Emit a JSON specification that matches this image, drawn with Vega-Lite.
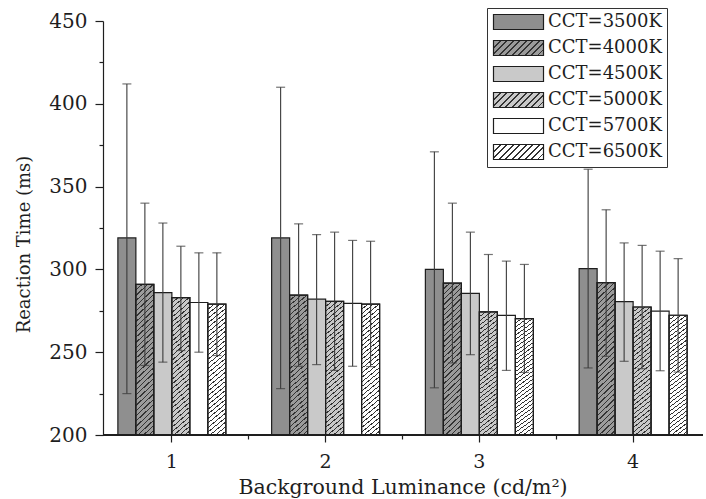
{
  "$schema": "https://vega.github.io/schema/vega-lite/v6.json",
  "width": 600,
  "height": 414,
  "autosize": {"type": "none"},
  "padding": {"left": 103, "top": 21, "right": 3, "bottom": 64},
  "config": {"font": "DejaVu Serif", "view": {"stroke": null}, "axis": {"grid": false}},
  "params": [
    {"name": "H", "value": [
      {"offset":0,"color":"#333"},{"offset":0.0078,"color":"#333"},{"offset":0.0078,"color":"rgba(0,0,0,0)"},{"offset":0.03125,"color":"rgba(0,0,0,0)"},
      {"offset":0.03125,"color":"#333"},{"offset":0.0391,"color":"#333"},{"offset":0.0391,"color":"rgba(0,0,0,0)"},{"offset":0.0625,"color":"rgba(0,0,0,0)"},
      {"offset":0.0625,"color":"#333"},{"offset":0.0703,"color":"#333"},{"offset":0.0703,"color":"rgba(0,0,0,0)"},{"offset":0.09375,"color":"rgba(0,0,0,0)"},
      {"offset":0.09375,"color":"#333"},{"offset":0.1016,"color":"#333"},{"offset":0.1016,"color":"rgba(0,0,0,0)"},{"offset":0.125,"color":"rgba(0,0,0,0)"},
      {"offset":0.125,"color":"#333"},{"offset":0.1328,"color":"#333"},{"offset":0.1328,"color":"rgba(0,0,0,0)"},{"offset":0.15625,"color":"rgba(0,0,0,0)"},
      {"offset":0.15625,"color":"#333"},{"offset":0.1641,"color":"#333"},{"offset":0.1641,"color":"rgba(0,0,0,0)"},{"offset":0.1875,"color":"rgba(0,0,0,0)"},
      {"offset":0.1875,"color":"#333"},{"offset":0.1953,"color":"#333"},{"offset":0.1953,"color":"rgba(0,0,0,0)"},{"offset":0.21875,"color":"rgba(0,0,0,0)"},
      {"offset":0.21875,"color":"#333"},{"offset":0.2266,"color":"#333"},{"offset":0.2266,"color":"rgba(0,0,0,0)"},{"offset":0.25,"color":"rgba(0,0,0,0)"},
      {"offset":0.25,"color":"#333"},{"offset":0.2578,"color":"#333"},{"offset":0.2578,"color":"rgba(0,0,0,0)"},{"offset":0.28125,"color":"rgba(0,0,0,0)"},
      {"offset":0.28125,"color":"#333"},{"offset":0.2891,"color":"#333"},{"offset":0.2891,"color":"rgba(0,0,0,0)"},{"offset":0.3125,"color":"rgba(0,0,0,0)"},
      {"offset":0.3125,"color":"#333"},{"offset":0.3203,"color":"#333"},{"offset":0.3203,"color":"rgba(0,0,0,0)"},{"offset":0.34375,"color":"rgba(0,0,0,0)"},
      {"offset":0.34375,"color":"#333"},{"offset":0.3516,"color":"#333"},{"offset":0.3516,"color":"rgba(0,0,0,0)"},{"offset":0.375,"color":"rgba(0,0,0,0)"},
      {"offset":0.375,"color":"#333"},{"offset":0.3828,"color":"#333"},{"offset":0.3828,"color":"rgba(0,0,0,0)"},{"offset":0.40625,"color":"rgba(0,0,0,0)"},
      {"offset":0.40625,"color":"#333"},{"offset":0.4141,"color":"#333"},{"offset":0.4141,"color":"rgba(0,0,0,0)"},{"offset":0.4375,"color":"rgba(0,0,0,0)"},
      {"offset":0.4375,"color":"#333"},{"offset":0.4453,"color":"#333"},{"offset":0.4453,"color":"rgba(0,0,0,0)"},{"offset":0.46875,"color":"rgba(0,0,0,0)"},
      {"offset":0.46875,"color":"#333"},{"offset":0.4766,"color":"#333"},{"offset":0.4766,"color":"rgba(0,0,0,0)"},{"offset":0.5,"color":"rgba(0,0,0,0)"},
      {"offset":0.5,"color":"#333"},{"offset":0.5078,"color":"#333"},{"offset":0.5078,"color":"rgba(0,0,0,0)"},{"offset":0.53125,"color":"rgba(0,0,0,0)"},
      {"offset":0.53125,"color":"#333"},{"offset":0.5391,"color":"#333"},{"offset":0.5391,"color":"rgba(0,0,0,0)"},{"offset":0.5625,"color":"rgba(0,0,0,0)"},
      {"offset":0.5625,"color":"#333"},{"offset":0.5703,"color":"#333"},{"offset":0.5703,"color":"rgba(0,0,0,0)"},{"offset":0.59375,"color":"rgba(0,0,0,0)"},
      {"offset":0.59375,"color":"#333"},{"offset":0.6016,"color":"#333"},{"offset":0.6016,"color":"rgba(0,0,0,0)"},{"offset":0.625,"color":"rgba(0,0,0,0)"},
      {"offset":0.625,"color":"#333"},{"offset":0.6328,"color":"#333"},{"offset":0.6328,"color":"rgba(0,0,0,0)"},{"offset":0.65625,"color":"rgba(0,0,0,0)"},
      {"offset":0.65625,"color":"#333"},{"offset":0.6641,"color":"#333"},{"offset":0.6641,"color":"rgba(0,0,0,0)"},{"offset":0.6875,"color":"rgba(0,0,0,0)"},
      {"offset":0.6875,"color":"#333"},{"offset":0.6953,"color":"#333"},{"offset":0.6953,"color":"rgba(0,0,0,0)"},{"offset":0.71875,"color":"rgba(0,0,0,0)"},
      {"offset":0.71875,"color":"#333"},{"offset":0.7266,"color":"#333"},{"offset":0.7266,"color":"rgba(0,0,0,0)"},{"offset":0.75,"color":"rgba(0,0,0,0)"},
      {"offset":0.75,"color":"#333"},{"offset":0.7578,"color":"#333"},{"offset":0.7578,"color":"rgba(0,0,0,0)"},{"offset":0.78125,"color":"rgba(0,0,0,0)"},
      {"offset":0.78125,"color":"#333"},{"offset":0.7891,"color":"#333"},{"offset":0.7891,"color":"rgba(0,0,0,0)"},{"offset":0.8125,"color":"rgba(0,0,0,0)"},
      {"offset":0.8125,"color":"#333"},{"offset":0.8203,"color":"#333"},{"offset":0.8203,"color":"rgba(0,0,0,0)"},{"offset":0.84375,"color":"rgba(0,0,0,0)"},
      {"offset":0.84375,"color":"#333"},{"offset":0.8516,"color":"#333"},{"offset":0.8516,"color":"rgba(0,0,0,0)"},{"offset":0.875,"color":"rgba(0,0,0,0)"},
      {"offset":0.875,"color":"#333"},{"offset":0.8828,"color":"#333"},{"offset":0.8828,"color":"rgba(0,0,0,0)"},{"offset":0.90625,"color":"rgba(0,0,0,0)"},
      {"offset":0.90625,"color":"#333"},{"offset":0.9141,"color":"#333"},{"offset":0.9141,"color":"rgba(0,0,0,0)"},{"offset":0.9375,"color":"rgba(0,0,0,0)"},
      {"offset":0.9375,"color":"#333"},{"offset":0.9453,"color":"#333"},{"offset":0.9453,"color":"rgba(0,0,0,0)"},{"offset":0.96875,"color":"rgba(0,0,0,0)"},
      {"offset":0.96875,"color":"#333"},{"offset":0.9766,"color":"#333"},{"offset":0.9766,"color":"rgba(0,0,0,0)"},{"offset":1,"color":"rgba(0,0,0,0)"}
    ]},
    {"name": "L4", "value": [
      {"offset":0,"color":"#333"},{"offset":0.025,"color":"#333"},{"offset":0.025,"color":"#9b9b9b"},{"offset":0.1,"color":"#9b9b9b"},
      {"offset":0.1,"color":"#333"},{"offset":0.125,"color":"#333"},{"offset":0.125,"color":"#9b9b9b"},{"offset":0.2,"color":"#9b9b9b"},
      {"offset":0.2,"color":"#333"},{"offset":0.225,"color":"#333"},{"offset":0.225,"color":"#9b9b9b"},{"offset":0.3,"color":"#9b9b9b"},
      {"offset":0.3,"color":"#333"},{"offset":0.325,"color":"#333"},{"offset":0.325,"color":"#9b9b9b"},{"offset":0.4,"color":"#9b9b9b"},
      {"offset":0.4,"color":"#333"},{"offset":0.425,"color":"#333"},{"offset":0.425,"color":"#9b9b9b"},{"offset":0.5,"color":"#9b9b9b"},
      {"offset":0.5,"color":"#333"},{"offset":0.525,"color":"#333"},{"offset":0.525,"color":"#9b9b9b"},{"offset":0.6,"color":"#9b9b9b"},
      {"offset":0.6,"color":"#333"},{"offset":0.625,"color":"#333"},{"offset":0.625,"color":"#9b9b9b"},{"offset":0.7,"color":"#9b9b9b"},
      {"offset":0.7,"color":"#333"},{"offset":0.725,"color":"#333"},{"offset":0.725,"color":"#9b9b9b"},{"offset":0.8,"color":"#9b9b9b"},
      {"offset":0.8,"color":"#333"},{"offset":0.825,"color":"#333"},{"offset":0.825,"color":"#9b9b9b"},{"offset":0.9,"color":"#9b9b9b"},
      {"offset":0.9,"color":"#333"},{"offset":0.925,"color":"#333"},{"offset":0.925,"color":"#9b9b9b"},{"offset":1,"color":"#9b9b9b"}
    ]},
    {"name": "L5", "value": [
      {"offset":0,"color":"#333"},{"offset":0.025,"color":"#333"},{"offset":0.025,"color":"#c9c9c9"},{"offset":0.1,"color":"#c9c9c9"},
      {"offset":0.1,"color":"#333"},{"offset":0.125,"color":"#333"},{"offset":0.125,"color":"#c9c9c9"},{"offset":0.2,"color":"#c9c9c9"},
      {"offset":0.2,"color":"#333"},{"offset":0.225,"color":"#333"},{"offset":0.225,"color":"#c9c9c9"},{"offset":0.3,"color":"#c9c9c9"},
      {"offset":0.3,"color":"#333"},{"offset":0.325,"color":"#333"},{"offset":0.325,"color":"#c9c9c9"},{"offset":0.4,"color":"#c9c9c9"},
      {"offset":0.4,"color":"#333"},{"offset":0.425,"color":"#333"},{"offset":0.425,"color":"#c9c9c9"},{"offset":0.5,"color":"#c9c9c9"},
      {"offset":0.5,"color":"#333"},{"offset":0.525,"color":"#333"},{"offset":0.525,"color":"#c9c9c9"},{"offset":0.6,"color":"#c9c9c9"},
      {"offset":0.6,"color":"#333"},{"offset":0.625,"color":"#333"},{"offset":0.625,"color":"#c9c9c9"},{"offset":0.7,"color":"#c9c9c9"},
      {"offset":0.7,"color":"#333"},{"offset":0.725,"color":"#333"},{"offset":0.725,"color":"#c9c9c9"},{"offset":0.8,"color":"#c9c9c9"},
      {"offset":0.8,"color":"#333"},{"offset":0.825,"color":"#333"},{"offset":0.825,"color":"#c9c9c9"},{"offset":0.9,"color":"#c9c9c9"},
      {"offset":0.9,"color":"#333"},{"offset":0.925,"color":"#333"},{"offset":0.925,"color":"#c9c9c9"},{"offset":1,"color":"#c9c9c9"}
    ]},
    {"name": "L6", "value": [
      {"offset":0,"color":"#333"},{"offset":0.025,"color":"#333"},{"offset":0.025,"color":"#ffffff"},{"offset":0.1,"color":"#ffffff"},
      {"offset":0.1,"color":"#333"},{"offset":0.125,"color":"#333"},{"offset":0.125,"color":"#ffffff"},{"offset":0.2,"color":"#ffffff"},
      {"offset":0.2,"color":"#333"},{"offset":0.225,"color":"#333"},{"offset":0.225,"color":"#ffffff"},{"offset":0.3,"color":"#ffffff"},
      {"offset":0.3,"color":"#333"},{"offset":0.325,"color":"#333"},{"offset":0.325,"color":"#ffffff"},{"offset":0.4,"color":"#ffffff"},
      {"offset":0.4,"color":"#333"},{"offset":0.425,"color":"#333"},{"offset":0.425,"color":"#ffffff"},{"offset":0.5,"color":"#ffffff"},
      {"offset":0.5,"color":"#333"},{"offset":0.525,"color":"#333"},{"offset":0.525,"color":"#ffffff"},{"offset":0.6,"color":"#ffffff"},
      {"offset":0.6,"color":"#333"},{"offset":0.625,"color":"#333"},{"offset":0.625,"color":"#ffffff"},{"offset":0.7,"color":"#ffffff"},
      {"offset":0.7,"color":"#333"},{"offset":0.725,"color":"#333"},{"offset":0.725,"color":"#ffffff"},{"offset":0.8,"color":"#ffffff"},
      {"offset":0.8,"color":"#333"},{"offset":0.825,"color":"#333"},{"offset":0.825,"color":"#ffffff"},{"offset":0.9,"color":"#ffffff"},
      {"offset":0.9,"color":"#333"},{"offset":0.925,"color":"#333"},{"offset":0.925,"color":"#ffffff"},{"offset":1,"color":"#ffffff"}
    ]}
  ],
  "data": {"values": [
    {"lum": 1, "cct": "CCT=3500K", "rt": 319, "lo": 225, "hi": 412},
    {"lum": 1, "cct": "CCT=4000K", "rt": 291, "lo": 242, "hi": 340},
    {"lum": 1, "cct": "CCT=4500K", "rt": 286, "lo": 244, "hi": 328},
    {"lum": 1, "cct": "CCT=5000K", "rt": 283, "lo": 251, "hi": 314},
    {"lum": 1, "cct": "CCT=5700K", "rt": 280, "lo": 250, "hi": 310},
    {"lum": 1, "cct": "CCT=6500K", "rt": 279, "lo": 248, "hi": 310},
    {"lum": 2, "cct": "CCT=3500K", "rt": 319, "lo": 228, "hi": 410},
    {"lum": 2, "cct": "CCT=4000K", "rt": 284.5, "lo": 241.5, "hi": 327.5},
    {"lum": 2, "cct": "CCT=4500K", "rt": 282, "lo": 242.5, "hi": 321},
    {"lum": 2, "cct": "CCT=5000K", "rt": 280.7, "lo": 239, "hi": 322.5},
    {"lum": 2, "cct": "CCT=5700K", "rt": 279.5, "lo": 241.5, "hi": 317.5},
    {"lum": 2, "cct": "CCT=6500K", "rt": 279, "lo": 241.3, "hi": 317},
    {"lum": 3, "cct": "CCT=3500K", "rt": 300, "lo": 228.5, "hi": 371},
    {"lum": 3, "cct": "CCT=4000K", "rt": 291.7, "lo": 243.5, "hi": 340},
    {"lum": 3, "cct": "CCT=4500K", "rt": 285.5, "lo": 248.5, "hi": 322.5},
    {"lum": 3, "cct": "CCT=5000K", "rt": 274.3, "lo": 240, "hi": 309},
    {"lum": 3, "cct": "CCT=5700K", "rt": 272.2, "lo": 239, "hi": 305},
    {"lum": 3, "cct": "CCT=6500K", "rt": 270.3, "lo": 237.8, "hi": 303},
    {"lum": 4, "cct": "CCT=3500K", "rt": 300.5, "lo": 240.5, "hi": 360.5},
    {"lum": 4, "cct": "CCT=4000K", "rt": 292, "lo": 247.5, "hi": 336},
    {"lum": 4, "cct": "CCT=4500K", "rt": 280.5, "lo": 244.5, "hi": 316},
    {"lum": 4, "cct": "CCT=5000K", "rt": 277.3, "lo": 240, "hi": 314.5},
    {"lum": 4, "cct": "CCT=5700K", "rt": 274.8, "lo": 238.8, "hi": 311},
    {"lum": 4, "cct": "CCT=6500K", "rt": 272.3, "lo": 238, "hi": 306.5}
  ]},
  "resolve": {"axis": {"x": "independent"}},
  "layer": [
    {
      "mark": {"type": "bar", "strokeWidth": 1.2, "fill": {"expr": "datum.cct ? (datum.cct === 'CCT=3500K' ? '#8f8f8f' : datum.cct === 'CCT=4000K' ? '#9b9b9b' : (datum.cct === 'CCT=4500K' || datum.cct === 'CCT=5000K') ? '#c9c9c9' : '#ffffff') : (datum.value === 'CCT=4000K' ? {gradient: 'linear', x1: 0, y1: 0, x2: 1.19, y2: 0.358, stops: L4} : datum.value === 'CCT=5000K' ? {gradient: 'linear', x1: 0, y1: 0, x2: 1.19, y2: 0.358, stops: L5} : datum.value === 'CCT=6500K' ? {gradient: 'linear', x1: 0, y1: 0, x2: 1.19, y2: 0.358, stops: L6} : datum.value === 'CCT=3500K' ? '#8f8f8f' : datum.value === 'CCT=4500K' ? '#c9c9c9' : '#ffffff')"}},
      "encoding": {
        "x": {"field": "lum", "type": "ordinal",
          "scale": {"range": [-8, 607], "paddingInner": 0.2976, "paddingOuter": 0.1488},
          "axis": {"title": "Background Luminance (cd/m²)", "labelAngle": 0, "domain": false, "tickSize": 7, "tickColor": "#1e1e1e", "tickWidth": 1.2, "bandPosition": 0.5, "labelFontSize": 19, "labelColor": "#1e1e1e", "labelPadding": 10, "titleFontSize": 20.5, "titleFontWeight": "normal", "titleColor": "#1e1e1e", "titleY": 58, "titleBaseline": "alphabetic", "orient": "bottom"}},
        "xOffset": {"field": "cct", "type": "nominal",
          "scale": {"domain": ["CCT=3500K", "CCT=4000K", "CCT=4500K", "CCT=5000K", "CCT=5700K", "CCT=6500K"], "paddingInner": 0, "paddingOuter": 0}},
        "y": {"field": "rt", "type": "quantitative",
          "scale": {"domain": [200, 450], "nice": false, "zero": false},
          "axis": {"values": [200, 225, 250, 275, 300, 325, 350, 375, 400, 425, 450], "title": "Reaction Time (ms)",
            "labelExpr": "datum.value % 50 === 0 ? datum.label : ''",
            "tickSize": {"condition": {"test": "datum.value % 50 === 0", "value": 8}, "value": 4},
            "labelPadding": 8, "labelFontSize": 20, "labelColor": "#1e1e1e", "tickColor": "#1e1e1e", "tickWidth": 1.2, "domainColor": "#1e1e1e", "domainWidth": 1.2,
            "titleFontSize": 18, "titleFontWeight": "normal", "titleColor": "#1e1e1e", "titleX": -79, "titleY": 223, "titleAngle": 270, "titleAlign": "center", "titleBaseline": "middle"}},
        "y2": {"datum": 200},
        "stroke": {"field": "cct", "type": "nominal",
          "scale": {"domain": ["CCT=3500K", "CCT=4000K", "CCT=4500K", "CCT=5000K", "CCT=5700K", "CCT=6500K"], "range": ["#1e1e1e", "#1e1e1e", "#1e1e1e", "#1e1e1e", "#1e1e1e", "#1e1e1e"]},
          "legend": {"title": null, "orient": "none", "legendX": 384, "legendY": -13,
            "symbolType": "M-1,-1H5.667V1H-1Z", "symbolSize": 225, "symbolStrokeWidth": 1.2, "symbolOpacity": 1,
            "labelFontSize": 18, "labelColor": "#1e1e1e", "labelOffset": 38, "labelLimit": 200, "rowPadding": 6, "padding": 5,
            "strokeColor": "#333", "fillColor": "#ffffff",
            "encode": {"symbols": {"update": {"strokeWidth": {"value": 1.2}}}}}}
      }
    },
    {
      "transform": [{"filter": {"field": "cct", "oneOf": ["CCT=4000K", "CCT=5000K", "CCT=6500K"]}}],
      "mark": {"type": "bar", "stroke": "#1e1e1e", "strokeWidth": 1.2, "fill": {"expr": "{gradient: 'linear', x1: 0, y1: 0, x2: 0.124, y2: 1.099, stops: H}"}},
      "encoding": {
        "x": {"field": "lum", "type": "ordinal", "axis": null},
        "xOffset": {"field": "cct", "type": "nominal"},
        "y": {"field": "rt", "type": "quantitative"},
        "y2": {"datum": 200}
      }
    },
    {
      "mark": {"type": "rule", "color": "#3a3a3a", "strokeWidth": 1.1},
      "encoding": {
        "x": {"field": "lum", "type": "ordinal",
          "axis": {"bandPosition": -0.212, "values": [2, 3, 4], "labels": false, "tickSize": 4, "domain": false, "title": null, "orient": "bottom", "tickColor": "#1e1e1e", "tickWidth": 1.2}},
        "xOffset": {"field": "cct", "type": "nominal"},
        "y": {"field": "lo", "type": "quantitative"},
        "y2": {"field": "hi"}
      }
    },
    {
      "mark": {"type": "tick", "color": "#3a3a3a", "size": 9, "thickness": 1.2},
      "encoding": {
        "x": {"field": "lum", "type": "ordinal", "axis": null},
        "xOffset": {"field": "cct", "type": "nominal"},
        "y": {"field": "lo", "type": "quantitative"}
      }
    },
    {
      "mark": {"type": "tick", "color": "#3a3a3a", "size": 9, "thickness": 1.2},
      "encoding": {
        "x": {"field": "lum", "type": "ordinal", "axis": null},
        "xOffset": {"field": "cct", "type": "nominal"},
        "y": {"field": "hi", "type": "quantitative"}
      }
    },
    {
      "mark": {"type": "rule", "color": "#1e1e1e", "strokeWidth": 1.2},
      "encoding": {"y": {"datum": 200}}
    }
  ]
}
